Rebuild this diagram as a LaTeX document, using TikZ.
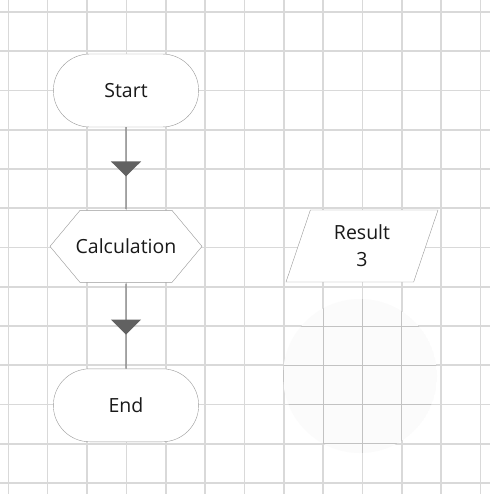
\documentclass[tikz,border=0pt]{standalone}
\usepackage{fontspec}
\setmainfont{Open Sans}
\usetikzlibrary{positioning,shapes.misc,shapes.geometric,arrows.meta,decorations.markings}

\tikzset{
  gridline/.style={draw=black!15, line width=1.6pt},
  spotline/.style={draw=black!24, line width=0.7pt},
  terminal/.style={rounded rectangle, draw=black!40, fill=white, minimum width=152pt, minimum height=73pt},
  prep/.style={minimum width=154pt, minimum height=74pt, inner sep=0pt,
    path picture={\draw[draw=black!40, fill=white]
      ([xshift=31pt,yshift=-1pt]path picture bounding box.north west) -- ([xshift=-31pt,yshift=-1pt]path picture bounding box.north east)
      -- ([xshift=-1pt]path picture bounding box.east) -- ([xshift=-31pt,yshift=1pt]path picture bounding box.south east)
      -- ([xshift=31pt,yshift=1pt]path picture bounding box.south west) -- ([xshift=1pt]path picture bounding box.west) -- cycle;}},
  io/.style={trapezium, trapezium left angle=63.4, trapezium right angle=116.6, trapezium stretches body, draw=black!40, fill=white, minimum width=152pt, minimum height=72pt, align=center},
  flow/.style={draw=black!50, line width=1.2pt, postaction={decorate},
    decoration={markings, mark=at position 0.6 with {\arrow{Triangle[width=30pt,length=15pt,color=black!62]}}}},
}

\begin{document}
\begin{tikzpicture}[x=1pt, y=-1pt, font=\fontsize{19.5}{27}\selectfont, text=black!90]
        \useasboundingbox (0,0) rectangle (490,494);
        \fill[white] (0,0) rectangle (490,494);
        \foreach \i in {0,...,12} {
            \draw[gridline] ({8.3+39.35*\i},0) -- ({8.3+39.35*\i},494);
            \draw[gridline] (0,{12+39.25*\i}) -- (490,{12+39.25*\i});
        }
        \begin{scope}
            \clip (360,376) circle [radius=77pt];
            \fill[black!1.5] (360,376) circle [radius=77pt];
            \foreach \i in {7,...,10} \draw[spotline] ({8.3+39.35*\i},290) -- ({8.3+39.35*\i},460);
            \foreach \i in {8,...,11} \draw[spotline] (280,{12+39.25*\i}) -- (440,{12+39.25*\i});
        \end{scope}
        \node(F1) [terminal] at (126,90.5) {Start};
        \node(F2) [prep, below=82pt of F1] {Calculation};
        \node(F3) [terminal, below=85pt of F2] {End};
        \node(R1) [io] at (362,246) {Result\\3};
        \draw[flow] (F1) -- (F2);
        \draw[flow] (F2) -- (F3);
    \end{tikzpicture}
\end{document}
